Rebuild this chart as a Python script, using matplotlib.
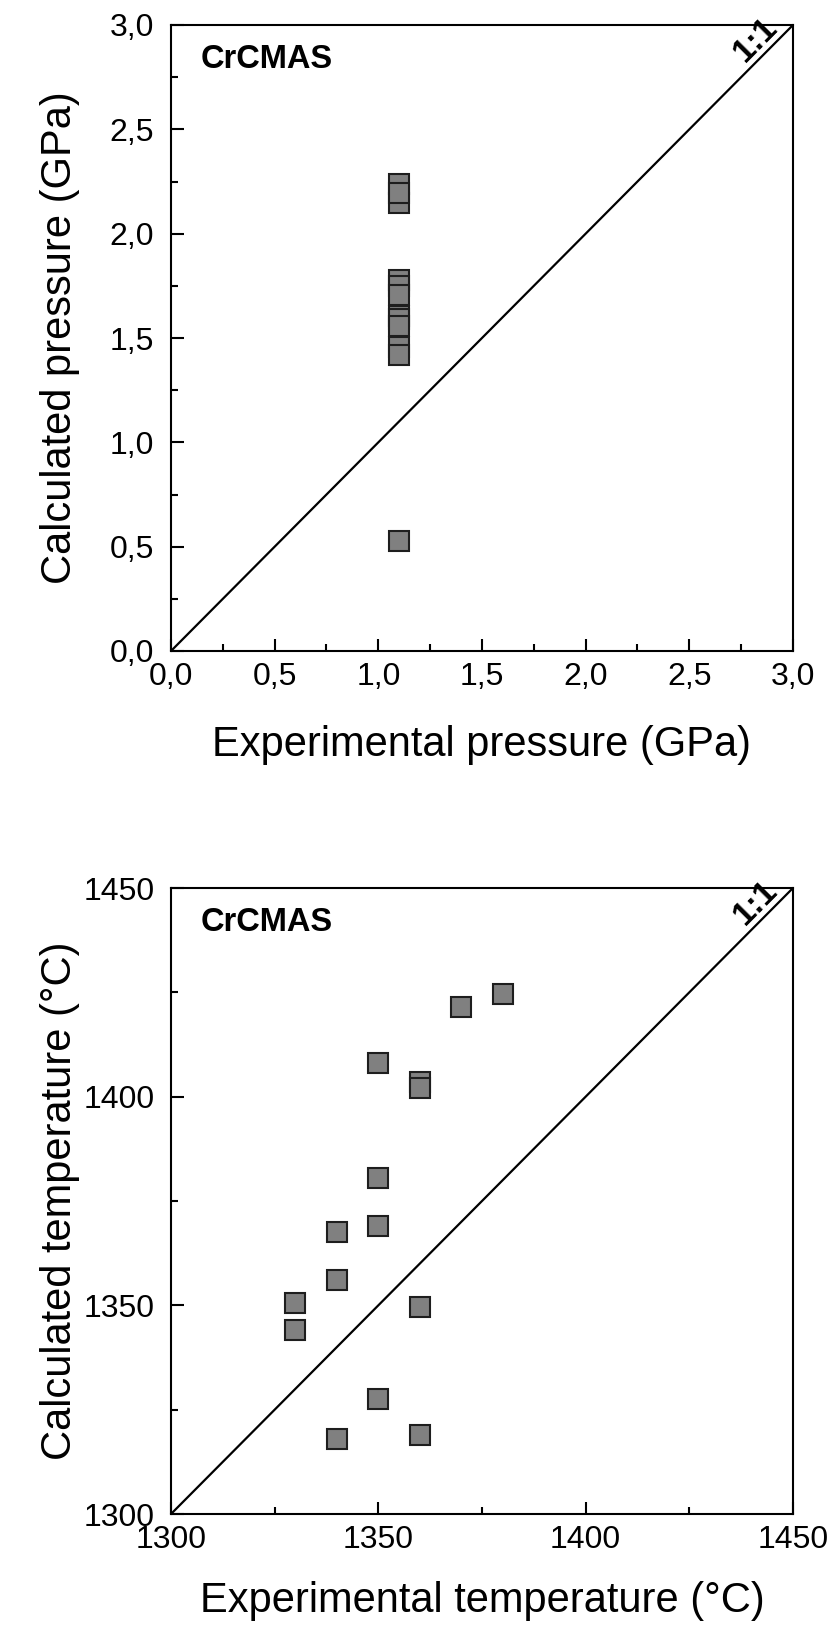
import matplotlib
matplotlib.use("Agg")
import matplotlib.pyplot as plt
from matplotlib.ticker import MultipleLocator, FixedLocator

plt.rcParams["font.family"] = ["Liberation Sans", "DejaVu Sans"]

# Pressure panel (GPa)
p_exp = [1.1, 1.1, 1.1, 1.1, 1.1, 1.1, 1.1, 1.1, 1.1, 1.1, 1.1, 1.1]
p_calc = [2.236, 2.148, 2.195, 1.776, 1.747, 1.707, 1.605, 1.592, 1.557, 1.456, 1.419, 0.526]
p_ticks = [0.0, 0.5, 1.0, 1.5, 2.0, 2.5, 3.0]
p_labels = ["0,0", "0,5", "1,0", "1,5", "2,0", "2,5", "3,0"]

# Temperature panel (°C)
t_exp = [1380, 1370, 1350, 1360, 1360, 1350, 1340, 1350, 1340, 1330, 1330, 1360, 1350, 1340, 1360]
t_calc = [1424.5, 1421.5, 1408, 1403.5, 1402, 1380.5, 1367.5, 1369, 1356, 1350.5, 1344, 1349.5, 1327.5, 1318, 1319]
t_ticks = [1300, 1350, 1400, 1450]
t_labels = ["1300", "1350", "1400", "1450"]

W, H = 828, 1627
fig = plt.figure(figsize=(W / 100, H / 100), dpi=100)

def px_axes(left, top, right, bottom):
    return fig.add_axes([left / W, 1 - bottom / H, (right - left) / W, (bottom - top) / H])

ax1 = px_axes(171, 25, 793, 651)
ax2 = px_axes(171, 888, 793, 1514)


def style(ax, lim, ticks, labels, minor, xlabel, ylabel, xlab_y, one_pos):
    ax.plot(lim, lim, color="black", lw=1.6, zorder=2)
    ax.set_xlim(lim)
    ax.set_ylim(lim)
    for axis in (ax.xaxis, ax.yaxis):
        axis.set_major_locator(FixedLocator(ticks))
        axis.set_minor_locator(MultipleLocator(minor))
    ax.set_xticklabels(labels)
    ax.set_yticklabels(labels)
    ax.tick_params(which="both", direction="in", width=1.5, top=False, right=False, labelsize=23)
    ax.tick_params(which="major", length=9)
    ax.tick_params(which="minor", length=5)
    ax.tick_params(axis="x", pad=8)
    ax.tick_params(axis="y", pad=12)
    for s in ax.spines.values():
        s.set_linewidth(1.5)
    ax.set_xlabel(xlabel, fontsize=30)
    ax.set_ylabel(ylabel, fontsize=30)
    ax.xaxis.set_label_coords(0.5, xlab_y)
    ax.xaxis.label.set_verticalalignment("center")
    ax.yaxis.set_label_coords(-0.178, 0.5)
    ax.yaxis.label.set_verticalalignment("center")
    ax.text(0.047, 0.945, "CrCMAS", transform=ax.transAxes, fontsize=23.5,
            fontweight="bold", ha="left", va="center")
    ax.text(one_pos, one_pos, "1:1", fontsize=24, fontweight="bold",
            rotation=45, rotation_mode="anchor", transform_rotates_text=True,
            ha="center", va="bottom")


style(ax1, [0, 3], p_ticks, p_labels, 0.25,
      "Experimental pressure (GPa)", "Calculated pressure (GPa)", -0.150, 2.875)
ax1.plot(p_exp, p_calc, "s", ms=14.5, mfc="#808080", mec="#1e1e1e", mew=1.5, zorder=3)

style(ax2, [1300, 1450], t_ticks, t_labels, 25,
      "Experimental temperature (°C)", "Calculated temperature (°C)", -0.139, 1443.7)
ax2.plot(t_exp, t_calc, "s", ms=14.5, mfc="#808080", mec="#1e1e1e", mew=1.5, zorder=3)

plt.savefig("out.png", dpi=100)
